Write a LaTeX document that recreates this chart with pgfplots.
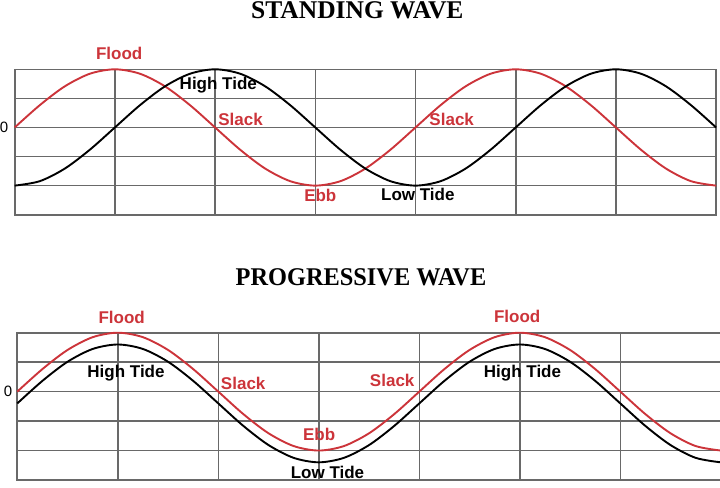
\documentclass[border=0pt]{standalone}
\usepackage{fontspec}
\setmainfont{Liberation Serif}
\setsansfont{Liberation Sans}
\usepackage{pgfplots}
\pgfplotsset{compat=1.18}
\definecolor{tidered}{RGB}{204,52,58}
\definecolor{gridgray}{RGB}{105,105,105}

\pgfplotsset{
  tidegrid/.style={
    scale only axis, anchor=north west,
    xmin=0, xmax=7, ymin=-3, ymax=2,
    xtick={0,1,2,3,4,5,6,7}, ytick={-3,-2,-1,0,1,2},
    xticklabels={}, yticklabels={},
    major tick length=0pt,
    grid=major,
    major grid style={gridgray, line width=1.6bp},
    axis line style={gridgray, line width=1.6bp},
    clip=false,
  },
}

\begin{document}
\begin{tikzpicture}
\path[use as bounding box] (0,0) rectangle (720bp,-488bp);
\clip (0,0) rectangle (720bp,-488bp);

% ---------- STANDING WAVE ----------
\begin{axis}[tidegrid, at={(14.7bp,-69.3bp)}, width=701.4bp, height=145.4bp]
\addplot[tidered, line width=1.9bp, smooth, no marks] coordinates {
(0,0) (0.25,0.7654) (0.5,1.4142) (0.75,1.8478) (1,2) (1.25,1.8478) (1.5,1.4142) (1.75,0.7654)
(2,0) (2.25,-0.7654) (2.5,-1.4142) (2.75,-1.8478) (3,-2) (3.25,-1.8478) (3.5,-1.4142) (3.75,-0.7654)
(4,0) (4.25,0.7654) (4.5,1.4142) (4.75,1.8478) (5,2) (5.25,1.8478) (5.5,1.4142) (5.75,0.7654)
(6,0) (6.25,-0.7654) (6.5,-1.4142) (6.75,-1.8478) (7,-2)};
\addplot[black, line width=1.9bp, smooth, no marks] coordinates {
(0,-2) (0.25,-1.8478) (0.5,-1.4142) (0.75,-0.7654) (1,0) (1.25,0.7654) (1.5,1.4142) (1.75,1.8478)
(2,2) (2.25,1.8478) (2.5,1.4142) (2.75,0.7654) (3,0) (3.25,-0.7654) (3.5,-1.4142) (3.75,-1.8478)
(4,-2) (4.25,-1.8478) (4.5,-1.4142) (4.75,-0.7654) (5,0) (5.25,0.7654) (5.5,1.4142) (5.75,1.8478)
(6,2) (6.25,1.8478) (6.5,1.4142) (6.75,0.7654) (7,0)};
\end{axis}

% ---------- PROGRESSIVE WAVE ----------
\begin{axis}[tidegrid, at={(17.3bp,-332.7bp)}, width=703.5bp, height=147.3bp]
\addplot[tidered, line width=1.9bp, smooth, no marks] coordinates {
(0,0) (0.25,0.7654) (0.5,1.4142) (0.75,1.8478) (1,2) (1.25,1.8478) (1.5,1.4142) (1.75,0.7654)
(2,0) (2.25,-0.7654) (2.5,-1.4142) (2.75,-1.8478) (3,-2) (3.25,-1.8478) (3.5,-1.4142) (3.75,-0.7654)
(4,0) (4.25,0.7654) (4.5,1.4142) (4.75,1.8478) (5,2) (5.25,1.8478) (5.5,1.4142) (5.75,0.7654)
(6,0) (6.25,-0.7654) (6.5,-1.4142) (6.75,-1.8478) (7,-2)};
\addplot[black, line width=1.9bp, smooth, no marks] coordinates {
(0,-0.4) (0.25,0.3654) (0.5,1.0142) (0.75,1.4478) (1,1.6) (1.25,1.4478) (1.5,1.0142) (1.75,0.3654)
(2,-0.4) (2.25,-1.1654) (2.5,-1.8142) (2.75,-2.2478) (3,-2.4) (3.25,-2.2478) (3.5,-1.8142) (3.75,-1.1654)
(4,-0.4) (4.25,0.3654) (4.5,1.0142) (4.75,1.4478) (5,1.6) (5.25,1.4478) (5.5,1.0142) (5.75,0.3654)
(6,-0.4) (6.25,-1.1654) (6.5,-1.8142) (6.75,-2.2478) (7,-2.4)};
\end{axis}

% ---------- titles ----------
\begin{scope}[every node/.style={inner sep=0pt, anchor=base}]
\node[font=\fontsize{25.5bp}{28bp}\selectfont\rmfamily\bfseries] at (357.3bp,-18.6bp) {STANDING WAVE};
\node[font=\fontsize{25.5bp}{28bp}\selectfont\rmfamily\bfseries, xscale=0.955] at (361bp,-285.7bp) {PROGRESSIVE WAVE};

% zero labels
\node[font=\fontsize{15bp}{17bp}\selectfont\sffamily] at (4bp,-132.7bp) {0};
\node[font=\fontsize{15bp}{17bp}\selectfont\sffamily] at (8bp,-396.7bp) {0};

% standing labels
\begin{scope}[every node/.append style={font=\fontsize{17bp}{19bp}\selectfont\sffamily\bfseries}]
\node[text=tidered] at (119.2bp,-59bp) {Flood};
\node[text=black] at (218.3bp,-89.3bp) {High Tide};
\node[text=tidered] at (240.5bp,-125bp) {Slack};
\node[text=tidered] at (451.7bp,-125bp) {Slack};
\node[text=tidered] at (320.3bp,-201bp) {Ebb};
\node[text=black] at (417.8bp,-200bp) {Low Tide};

% progressive labels
\node[text=tidered] at (121.7bp,-323.3bp) {Flood};
\node[text=black] at (126bp,-377.7bp) {High Tide};
\node[text=tidered] at (517.2bp,-322.7bp) {Flood};
\node[text=black] at (522.5bp,-377.3bp) {High Tide};
\node[text=tidered] at (243.2bp,-389.3bp) {Slack};
\node[text=tidered] at (392.2bp,-386bp) {Slack};
\node[text=tidered] at (319.2bp,-440.3bp) {Ebb};
\node[text=black] at (327.5bp,-478bp) {Low Tide};
\end{scope}
\end{scope}
\end{tikzpicture}
\end{document}
